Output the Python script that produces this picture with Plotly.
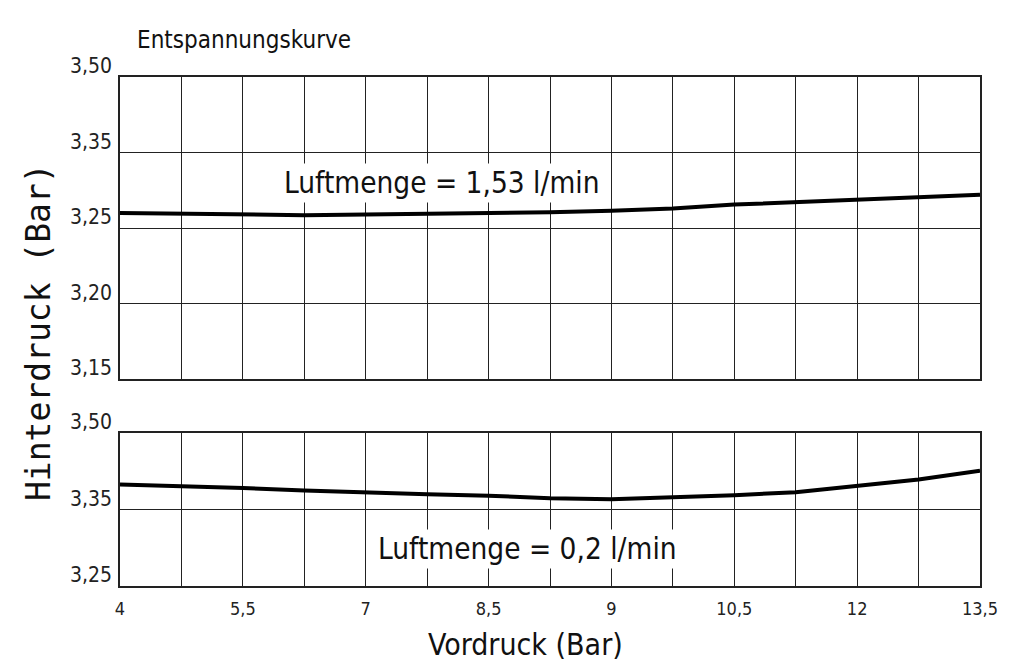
import numpy as np
import plotly.graph_objects as go
from plotly.subplots import make_subplots

# ---- data ----
x_label_vals = [4, 5.5, 7, 8.5, 9, 10.5, 12, 13.5]
x_tick_text = ["4", "5,5", "7", "8,5", "9", "10,5", "12", "13,5"]

top_tick_vals = [3.15, 3.20, 3.25, 3.35, 3.50]
top_tick_text = ["3,15", "3,20", "3,25", "3,35", "3,50"]
bot_tick_vals = [3.25, 3.35, 3.50]
bot_tick_text = ["3,25", "3,35", "3,50"]

vordruck = [4, 4.75, 5.5, 6.25, 7, 7.75, 8.5, 8.75, 9, 9.75, 10.5, 11.25, 12, 12.75, 13.5]
druck_153 = [3.270, 3.269, 3.268, 3.267, 3.268, 3.269, 3.269, 3.271, 3.273,
             3.276, 3.281, 3.284, 3.287, 3.291, 3.294]
druck_02 = [3.399, 3.396, 3.392, 3.387, 3.383, 3.380, 3.377, 3.372, 3.370,
            3.374, 3.378, 3.384, 3.396, 3.409, 3.426]

title_text = "Entspannungskurve"
label_top = "Luftmenge = 1,53 l/min"
label_bot = "Luftmenge = 0,2 l/min"
y_title = "Hinterdruck (Bar)"
x_title = "Vordruck (Bar)"

# ---- scale mapping (equal-spaced non-linear tick scale of the drawing) ----
x_label_pos = [2 * i for i in range(len(x_label_vals))]
top_pos = list(range(len(top_tick_vals)))
bot_pos = list(range(len(bot_tick_vals)))

xp = np.interp(vordruck, x_label_vals, x_label_pos)
yp_top = np.interp(druck_153, top_tick_vals, top_pos)
yp_bot = np.interp(druck_02, bot_tick_vals, bot_pos)

x_all_pos = list(range(0, 2 * (len(x_label_vals) - 1) + 1))
x_all_text = [x_tick_text[i // 2] if i % 2 == 0 else "" for i in x_all_pos]

fig = make_subplots(rows=2, cols=1, shared_xaxes=True, vertical_spacing=0.106,
                    row_heights=[0.5933, 0.3006])

fig.add_trace(go.Scatter(x=xp, y=yp_top, mode="lines",
                         line=dict(color="black", width=4), showlegend=False), row=1, col=1)
fig.add_trace(go.Scatter(x=xp, y=yp_bot, mode="lines",
                         line=dict(color="black", width=4), showlegend=False), row=2, col=1)

grid = "#222222"
sans = "DejaVu Sans Condensed, Liberation Sans, Arial, sans-serif"
tick_font = dict(family=sans, size=21, color="#222")

for r in (1, 2):
    fig.update_xaxes(row=r, col=1, range=[0, x_all_pos[-1]], tickvals=x_all_pos,
                     ticktext=x_all_text if r == 2 else [""] * len(x_all_pos),
                     showgrid=True, gridcolor=grid, gridwidth=1.4,
                     showline=True, linecolor=grid, linewidth=1.6, mirror=True,
                     ticks="", zeroline=False,
                     tickfont=dict(family=sans, size=18, color="#222"),
                     ticklabelstandoff=6)

fig.update_yaxes(row=1, col=1, range=[0, top_pos[-1]], tickvals=top_pos, ticktext=top_tick_text,
                 showgrid=True, gridcolor=grid, gridwidth=1.4,
                 showline=True, linecolor=grid, linewidth=1.6, mirror=True,
                 ticks="", zeroline=False, tickfont=tick_font,
                 ticklabelshift=-11, ticklabelstandoff=2)
fig.update_yaxes(row=2, col=1, range=[0, bot_pos[-1]], tickvals=bot_pos, ticktext=bot_tick_text,
                 showgrid=True, gridcolor=grid, gridwidth=1.4,
                 showline=True, linecolor=grid, linewidth=1.6, mirror=True,
                 ticks="", zeroline=False, tickfont=tick_font,
                 ticklabelshift=-11, ticklabelstandoff=2)

fig.add_annotation(text=title_text, xref="paper", yref="paper", x=0.0174, y=1.0727,
                   xanchor="left", yanchor="middle", showarrow=False,
                   font=dict(family=sans, size=24, color="#111"))
fig.add_annotation(text=label_top, xref="paper", yref="paper", x=0.3744, y=0.792,
                   xanchor="center", yanchor="middle", showarrow=False, bgcolor="white",
                   borderpad=2,
                   font=dict(family=sans, size=29.5, color="#111"))
fig.add_annotation(text=label_bot, xref="paper", yref="paper", x=0.4733, y=0.0727,
                   xanchor="center", yanchor="middle", showarrow=False, bgcolor="white",
                   borderpad=2,
                   font=dict(family=sans, size=29.5, color="#111"))
fig.add_annotation(text=y_title, xref="paper", yref="paper", x=-0.0953, y=0.499,
                   xanchor="center", yanchor="middle", textangle=-90, showarrow=False,
                   font=dict(family="DejaVu Sans Mono", size=33, color="#111"))
fig.add_annotation(text=x_title, xref="paper", yref="paper", x=0.472, y=-0.1513,
                   xanchor="center", yanchor="bottom", showarrow=False, borderpad=0,
                   font=dict(family=sans, size=30, color="#111"))

# page body has an 8px default margin: size the figure so the plot lands where the reference has it
fig.update_layout(width=1010, height=655, margin=dict(l=112, r=38, t=69, b=77),
                  plot_bgcolor="white", paper_bgcolor="white")

fig.write_html("out.html")
